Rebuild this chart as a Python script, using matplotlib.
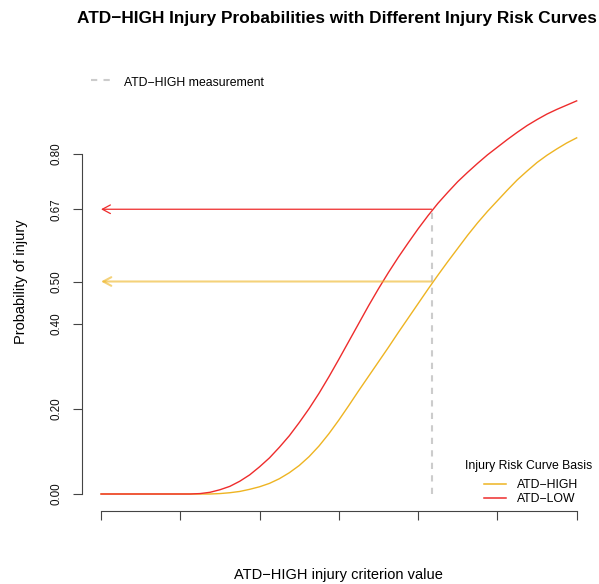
import matplotlib
matplotlib.use("Agg")
import matplotlib.pyplot as plt
from matplotlib.lines import Line2D

plt.rcParams['font.family'] = ['Liberation Sans', 'DejaVu Sans']

# Injury risk curves, read at steps of 0.125 on the criterion axis
crit_value = [0.0, 0.125, 0.25, 0.375, 0.5, 0.625, 0.75, 0.875, 1.0, 1.125, 1.25, 1.375,
              1.5, 1.625, 1.75, 1.875, 2.0, 2.125, 2.25, 2.375, 2.5, 2.625, 2.75, 2.875,
              3.0, 3.125, 3.25, 3.375, 3.5, 3.625, 3.75, 3.875, 4.0, 4.125, 4.25, 4.375,
              4.5, 4.625, 4.75, 4.875, 5.0, 5.125, 5.25, 5.375, 5.5, 5.625, 5.75, 5.875, 6.0]
prob_atd_high = [0.0, 0.0, 0.0, 0.0, 0.0, 0.0, 0.0, 0.0, 0.0, 0.0, 0.0, 0.0,
                 0.001, 0.003, 0.006, 0.011, 0.017, 0.025, 0.036, 0.050, 0.067, 0.088, 0.113, 0.142,
                 0.174, 0.208, 0.243, 0.277, 0.311, 0.345, 0.380, 0.414, 0.448, 0.482, 0.515, 0.547,
                 0.578, 0.609, 0.638, 0.665, 0.690, 0.715, 0.739, 0.760, 0.780, 0.797, 0.812, 0.826, 0.838]
prob_atd_low = [0.0, 0.0, 0.0, 0.0, 0.0, 0.0, 0.0, 0.0, 0.0, 0.0, 0.001, 0.004,
                0.010, 0.018, 0.030, 0.045, 0.064, 0.085, 0.110, 0.137, 0.168, 0.201, 0.237, 0.276,
                0.317, 0.359, 0.401, 0.443, 0.483, 0.521, 0.557, 0.591, 0.624, 0.655, 0.684, 0.710,
                0.735, 0.757, 0.778, 0.798, 0.816, 0.834, 0.851, 0.867, 0.881, 0.894, 0.905, 0.915, 0.925]

# ATD-HIGH measurement and the probabilities it gives on each curve
measurement = 4.17
prob_high_at_meas = 0.50
prob_low_at_meas = 0.67

x_ticks = [0, 1, 2, 3, 4, 5, 6]
y_ticks = [0.0, 0.2, 0.4, 0.5, 0.67, 0.8]
y_tick_labels = ["0.00", "0.20", "0.40", "0.50", "0.67", "0.80"]

title = "ATD\u2212HIGH Injury Probabilities with Different Injury Risk Curves"
x_label = "ATD\u2212HIGH injury criterion value"
y_label = "Probability of injury"
legend_title = "Injury Risk Curve Basis"
series_names = ["ATD\u2212HIGH", "ATD\u2212LOW"]
meas_name = "ATD\u2212HIGH measurement"

col_high = "#EEB422"
col_low = "#EE2C2C"
col_meas = "#CCCCCC"
col_axis = "#444444"

W, H = 599, 584


def px(x, y):
    # pixel position -> figure fraction
    return x / W, 1 - y / H


fig = plt.figure(figsize=(W / 100, H / 100), dpi=100)
ax = fig.add_axes([82 / W, 1 - 511 / H, 513.7 / W, 459 / H])

ax.plot(crit_value, prob_atd_high, color=col_high, lw=1.0)
ax.plot(crit_value, prob_atd_low, color=col_low, lw=1.0)

# measurement line and read-off arrows
ax.plot([measurement, measurement], [0, prob_low_at_meas], color=col_meas,
        lw=1.5, ls=(0, (3, 3)))
ax.annotate("", xy=(0, prob_low_at_meas), xytext=(measurement, prob_low_at_meas),
            arrowprops=dict(arrowstyle="->,head_length=5.8,head_width=3.1",
                            mutation_scale=1, color=col_low, lw=0.9,
                            shrinkA=0, shrinkB=0))
ax.annotate("", xy=(0, prob_high_at_meas), xytext=(measurement, prob_high_at_meas),
            arrowprops=dict(arrowstyle="->,head_length=5.8,head_width=3.1",
                            mutation_scale=1, color=col_high, alpha=0.6, lw=1.5,
                            shrinkA=0, shrinkB=0))

ax.set_xlim(-0.24, 6.24)
ax.set_ylim(-0.04, 1.04)

for side in ["top", "right"]:
    ax.spines[side].set_visible(False)
for side in ["left", "bottom"]:
    ax.spines[side].set_color(col_axis)
    ax.spines[side].set_linewidth(0.8)
ax.spines["left"].set_bounds(0, 0.8)
ax.spines["bottom"].set_bounds(0, 6)

ax.set_xticks(x_ticks)
ax.set_xticklabels([])
ax.set_yticks(y_ticks, labels=y_tick_labels)
ax.tick_params(length=6.5, width=0.8, color=col_axis, labelsize=8.4, pad=7.5,
               labelcolor="#111111")
ax.tick_params(axis="y", labelrotation=90)
for lab in ax.get_yticklabels():
    lab.set_va("center")

fig.text(*px(337, 22.7), title, ha="center", va="baseline", fontsize=12.4,
         fontweight="bold")
fig.text(*px(338, 579), x_label, ha="center", va="baseline", fontsize=10.5)
fig.text(*px(21, 281.5), y_label, rotation=90, ha="center", va="center",
         fontsize=10.5)

# legend for the measurement line (top left)
x0, y0 = px(91, 80)
x1, _ = px(113, 80)
fig.add_artist(Line2D([x0, x1], [y0, y0], transform=fig.transFigure,
                      color=col_meas, lw=1.5, ls=(0, (3, 3))))
fig.text(*px(124, 85.5), meas_name, va="baseline", fontsize=8.85)

# legend for the curves (bottom right)
fig.text(*px(528.5, 468.5), legend_title, ha="center", va="baseline", fontsize=8.85)
for name, col, ly in zip(series_names, [col_high, col_low], [483.8, 497.6]):
    x0, y0 = px(484, ly)
    x1, _ = px(506, ly)
    fig.add_artist(Line2D([x0, x1], [y0, y0], transform=fig.transFigure,
                          color=col, lw=1.1))
    fig.text(*px(517, ly + 4.0), name, va="baseline", fontsize=8.85)

fig.savefig("out.png", dpi=100)
